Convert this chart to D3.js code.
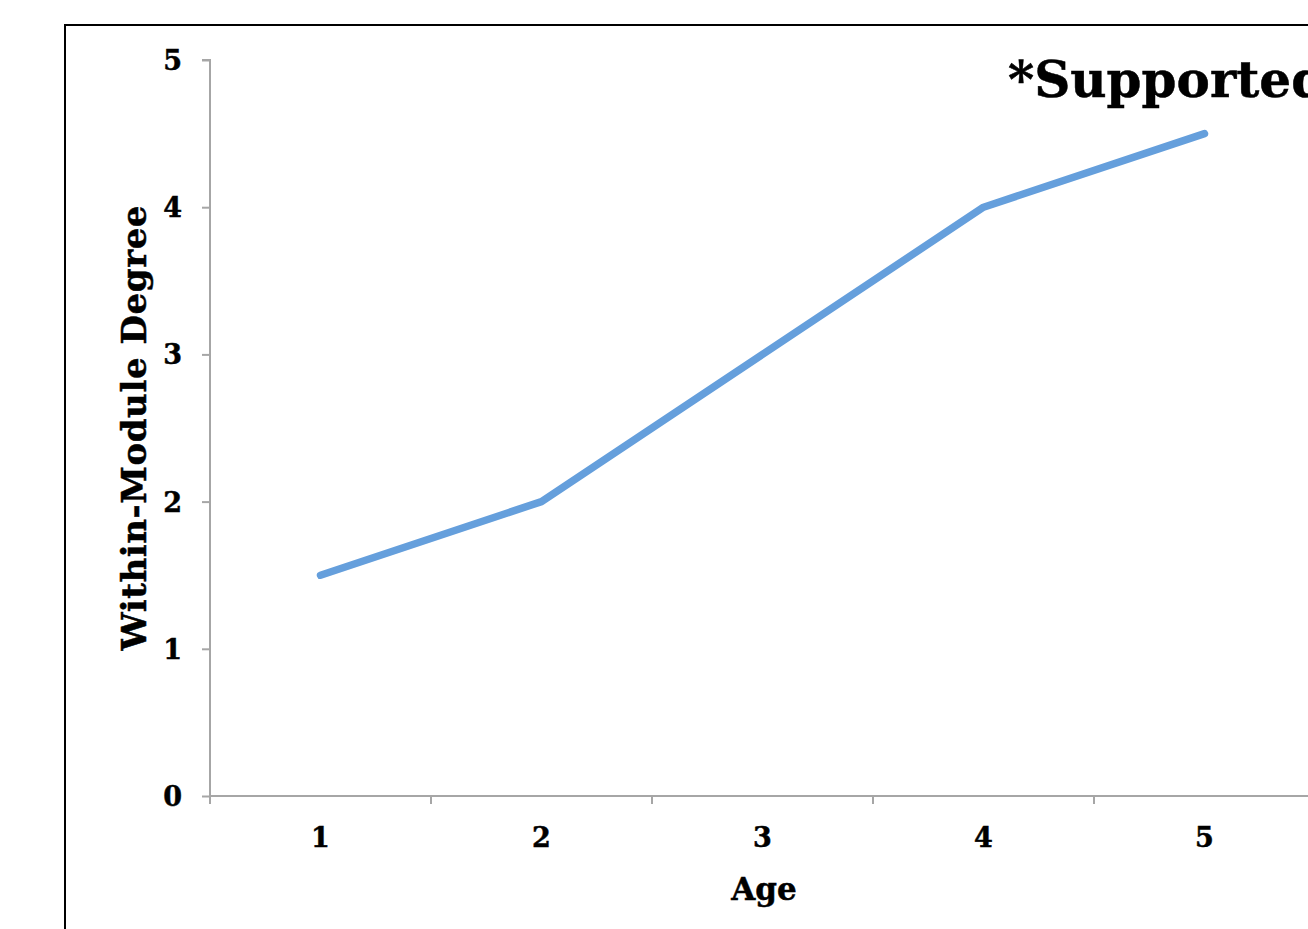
<!DOCTYPE html>
<html>
<head>
<meta charset="utf-8">
<script src="https://cdn.jsdelivr.net/npm/d3@7"></script>
<style>
  body { margin: 0; background: #fff; overflow: hidden; }
  text { font-family: "DejaVu Serif", serif; font-weight: bold; fill: #000; stroke: #000; stroke-width: 0.5px; }
</style>
</head>
<body>
<svg id="chart" width="1308" height="929"></svg>
<script>
// data
const ages = ["1", "2", "3", "4", "5", "6"];
const degree = [1.5, 2, 3, 4, 4.5];
const yTicks = [0, 1, 2, 3, 4, 5];

const WIDTH = 1308;
const HEIGHT = 929;
const MARGIN = { top: 60, left: 210, bottom: 133 };
const AXIS_COLOR = "#a6a6a6";

const svg = d3.select("#chart");

// outer frame (runs off the page right and bottom)
svg.append("rect")
  .attr("x", 65).attr("y", 25)
  .attr("width", 1400).attr("height", 1000)
  .attr("fill", "none")
  .attr("stroke", "#000")
  .attr("stroke-width", 2);

// band scale: each category 221px wide
const xScale = d3.scaleBand()
  .domain(ages)
  .range([MARGIN.left, MARGIN.left + 221 * ages.length]);

const yScale = d3.scaleLinear()
  .domain([0, 5])
  .range([HEIGHT - MARGIN.bottom, MARGIN.top]);

// y axis
const yAxis = svg.append("g")
  .attr("transform", `translate(${MARGIN.left},0)`)
  .call(d3.axisLeft(yScale).tickValues(yTicks).tickSize(8).tickPadding(20).tickFormat(d3.format("d")));
yAxis.select(".domain").attr("stroke", AXIS_COLOR).attr("stroke-width", 2)
  .attr("d", `M-8,${yScale(5)}H0V${yScale(0)}`);
yAxis.selectAll(".tick line").attr("stroke", AXIS_COLOR).attr("stroke-width", 2);
yAxis.selectAll(".tick text").style("font-size", "27px").attr("dy", "0.35em");

// x axis, ticks on category boundaries
const xAxis = svg.append("g")
  .attr("transform", `translate(0,${yScale(0)})`);
xAxis.append("line")
  .attr("x1", MARGIN.left).attr("x2", WIDTH + 10)
  .attr("stroke", AXIS_COLOR).attr("stroke-width", 2);
xAxis.selectAll(".xtick")
  .data(ages)
  .join("line")
  .attr("x1", (d) => xScale(d)).attr("x2", (d) => xScale(d))
  .attr("y1", 0).attr("y2", 8)
  .attr("stroke", AXIS_COLOR).attr("stroke-width", 2);
xAxis.selectAll(".xlabel")
  .data(ages.slice(0, 5))
  .join("text")
  .attr("x", (d) => xScale(d) + xScale.bandwidth() / 2)
  .attr("y", 51)
  .attr("text-anchor", "middle")
  .style("font-size", "27px")
  .text((d) => d);

// series line
const line = d3.line()
  .x((d, i) => xScale(ages[i]) + xScale.bandwidth() / 2)
  .y((d) => yScale(d));

svg.append("path")
  .datum(degree)
  .attr("d", line)
  .attr("fill", "none")
  .attr("stroke", "#659fdc")
  .attr("stroke-width", 7.5)
  .attr("stroke-linecap", "round")
  .attr("stroke-linejoin", "round");

// axis titles
svg.append("text")
  .attr("x", 764).attr("y", 900)
  .attr("text-anchor", "middle")
  .style("font-size", "31px")
  .text("Age");

svg.append("text")
  .attr("transform", `translate(146,428) rotate(-90)`)
  .attr("text-anchor", "middle")
  .style("font-size", "34px")
  .attr("textLength", 445)
  .text("Within-Module Degree");

// annotation, runs off the right edge as in the original
svg.append("text")
  .attr("x", 1008).attr("y", 97)
  .style("font-size", "50px")
  .text("*Supported");
</script>
</body>
</html>
